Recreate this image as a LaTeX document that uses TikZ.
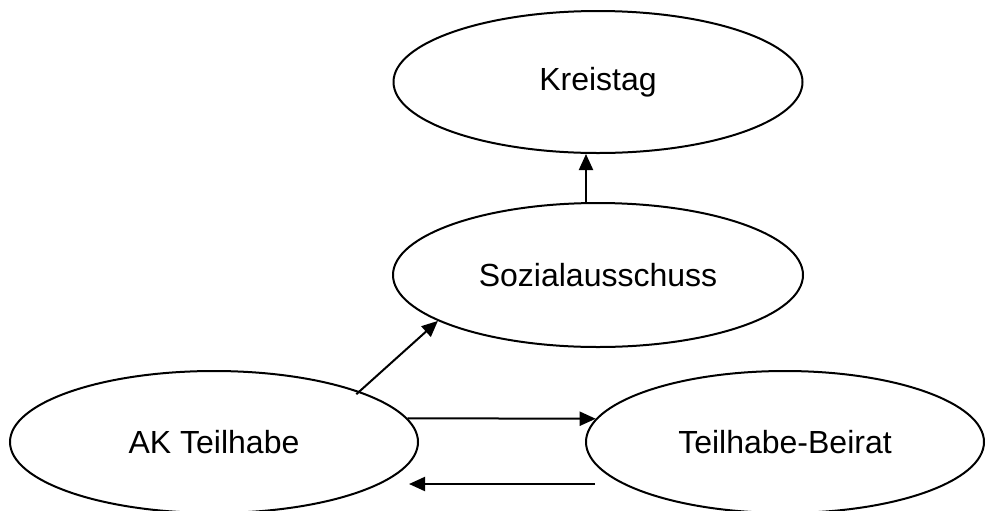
\documentclass[tikz,border=0pt]{standalone}
\usepackage{fontspec}
\setmainfont{Liberation Sans}
\usetikzlibrary{shapes.geometric,arrows.meta}

\begin{document}
\begin{tikzpicture}
		[x=0.5pt,y=-0.5pt,every node/.style={shape=ellipse, draw, line width=1pt, inner sep=0pt, font=\fontsize{16}{19}\selectfont}]
		\useasboundingbox (0,0) rectangle (986,510);
		\node[minimum width=204.5pt,minimum height=71pt] (kreis) at (598,82) {Kreistag};
		\node[minimum width=205pt,minimum height=72pt] (sozial) at (598,275) {Sozialausschuss};
		\node[minimum width=204pt,minimum height=71pt] (ak) at (214,442) {AK Teilhabe};
		\node[minimum width=199pt,minimum height=71pt] (beirat) at (785,442) {Teilhabe-Beirat};
		%\node (front) at (0,0) {}
		\draw[line width=1pt,-{Triangle[length=8pt,width=7pt]}] ([xshift=-6pt]sozial.north) -- ([xshift=-6pt]kreis.south);
		\draw[line width=1pt,-{Triangle[length=8pt,width=7pt]}] ([yshift=-2pt]ak.20) -- (sozial.196);
		\draw[line width=1pt,-{Triangle[length=8pt,width=7pt]}] (ak.7) -- (beirat.173);
		\draw[line width=1pt,-{Triangle[length=8pt,width=7pt]}] ([shift={(5pt,-21pt)}]beirat.west) -- ([shift={(-5pt,-21pt)}]ak.east);
	\end{tikzpicture}
\end{document}
